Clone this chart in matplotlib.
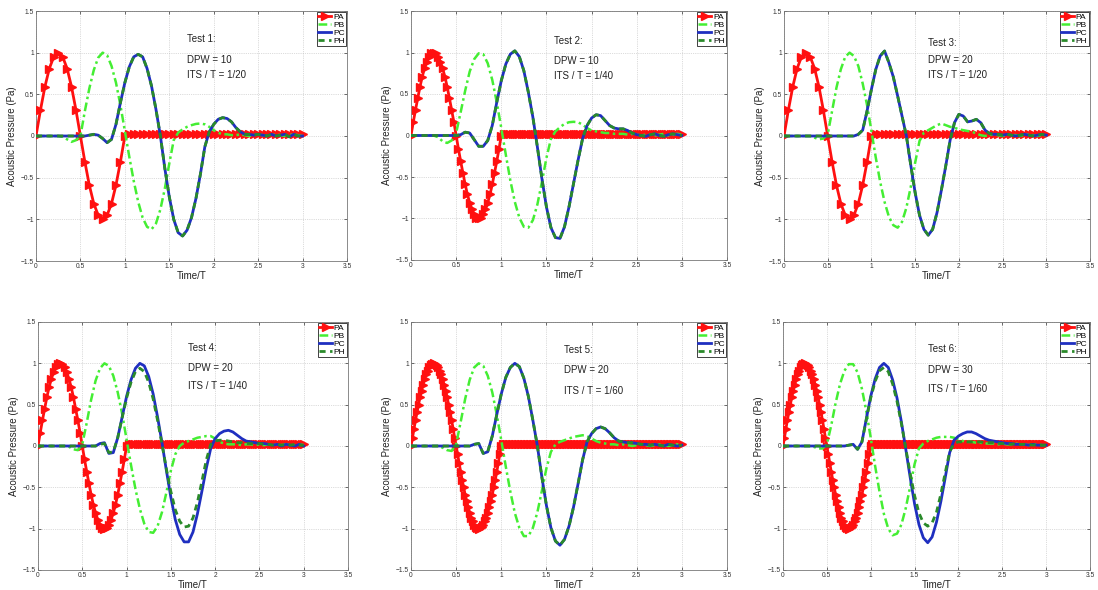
import numpy as np
import matplotlib
matplotlib.use("Agg")
import matplotlib.pyplot as plt
from matplotlib.ticker import FuncFormatter

plt.rcParams['font.family'] = ['Liberation Sans', 'DejaVu Sans']

# ---------------------------------------------------------------------------
# Data
# ---------------------------------------------------------------------------
# Common time grid (Time/T) for the smooth responses PB, PC, PH
t_grid = np.round(np.arange(61) * 0.05, 2)

test_names = ["Test 1:", "Test 2:", "Test 3:", "Test 4:", "Test 5:", "Test 6:"]
dpw_labels = ["DPW = 10", "DPW = 10", "DPW = 20", "DPW = 20", "DPW = 20", "DPW = 30"]
its_labels = ["ITS / T = 1/20", "ITS / T = 1/40", "ITS / T = 1/20",
              "ITS / T = 1/40", "ITS / T = 1/60", "ITS / T = 1/60"]
its_steps = [1 / 20, 1 / 40, 1 / 20, 1 / 40, 1 / 60, 1 / 60]

# Source pulse PA over one period, sampled at the ITS step
pa_20 = [0.0, 0.31, 0.59, 0.81, 0.95, 1.0, 0.95, 0.81, 0.59, 0.31, 0.0,
         -0.31, -0.59, -0.81, -0.95, -1.0, -0.95, -0.81, -0.59, -0.31, 0.0]
pa_40 = [0.0, 0.16, 0.31, 0.45, 0.59, 0.71, 0.81, 0.89, 0.95, 0.99, 1.0,
         0.99, 0.95, 0.89, 0.81, 0.71, 0.59, 0.45, 0.31, 0.16, 0.0,
         -0.16, -0.31, -0.45, -0.59, -0.71, -0.81, -0.89, -0.95, -0.99, -1.0,
         -0.99, -0.95, -0.89, -0.81, -0.71, -0.59, -0.45, -0.31, -0.16, 0.0]
pa_60 = [0.0, 0.10, 0.21, 0.31, 0.41, 0.5, 0.59, 0.67, 0.74, 0.81, 0.87,
         0.91, 0.95, 0.98, 0.99, 1.0, 0.99, 0.98, 0.95, 0.91, 0.87,
         0.81, 0.74, 0.67, 0.59, 0.5, 0.41, 0.31, 0.21, 0.10, 0.0,
         -0.10, -0.21, -0.31, -0.41, -0.5, -0.59, -0.67, -0.74, -0.81, -0.87,
         -0.91, -0.95, -0.98, -0.99, -1.0, -0.99, -0.98, -0.95, -0.91, -0.87,
         -0.81, -0.74, -0.67, -0.59, -0.5, -0.41, -0.31, -0.21, -0.10, 0.0]
pa_pulses = [pa_20, pa_40, pa_20, pa_40, pa_60, pa_60]
pa_tail_level = 0.02   # PA after the pulse (1 < t <= 3)
pa_end = 3.0

pb_1 = [0, 0, 0, 0, 0, 0,
        -0.01, -0.04, -0.07, -0.05, 0.0,
        0.30, 0.57, 0.79, 0.94, 1.00,
        0.97, 0.84, 0.64, 0.37, 0.06,
        -0.25, -0.54, -0.79, -0.98, -1.09,
        -1.12, -1.05, -0.88, -0.63, -0.33,
        -0.05, 0.04, 0.08, 0.11, 0.13,
        0.145, 0.15, 0.14, 0.11, 0.07,
        0.04, 0.02, 0.02, 0.01, 0.01,
        0.02, 0.01, 0.0, 0.01, 0.02,
        0.01, 0.0, 0.01, 0.02, 0.01,
        0.0, 0.01, 0.02, 0.01, 0.0]
pc_1 = [0, 0, 0, 0, 0, 0, 0, 0, 0, 0, 0,
        0.0, 0.01, 0.02, 0.01, -0.03,
        -0.08, -0.04, 0.14, 0.40, 0.64,
        0.83, 0.95, 0.98, 0.95, 0.81,
        0.60, 0.32, 0.0, -0.39, -0.73,
        -1.0, -1.16, -1.2, -1.13, -0.98,
        -0.75, -0.46, -0.13, 0.05, 0.14,
        0.20, 0.22, 0.21, 0.17, 0.10,
        0.05, 0.02, 0.02, 0.01, 0.02,
        0.01, 0.0, 0.02, 0.0, 0.01,
        0.02, -0.01, 0.02, 0.0, 0.0]
ph_1 = pc_1

pb_2 = [0, 0, 0, 0, 0, 0,
        -0.02, -0.07, -0.09, -0.06, 0.03,
        0.28, 0.54, 0.77, 0.92, 0.99,
        0.98, 0.87, 0.67, 0.40, 0.09,
        -0.23, -0.54, -0.80, -0.99, -1.10,
        -1.11, -1.02, -0.83, -0.56, -0.27,
        -0.04, 0.05, 0.10, 0.14, 0.16,
        0.165, 0.16, 0.13, 0.09, 0.06,
        0.05, 0.04, 0.03, 0.03, 0.02,
        0.02, 0.02, 0.01, 0.02, 0.01,
        0.0, 0.01, 0.01, 0.0, 0.01,
        0.02, 0.0, 0.01, 0.02, 0.01]
pc_2 = [0, 0, 0, 0, 0, 0, 0, 0, 0, 0, 0,
        0.01, 0.04, 0.03, -0.05, -0.13,
        -0.13, -0.06, 0.12, 0.40, 0.66,
        0.86, 0.98, 1.02, 0.95, 0.78,
        0.52, 0.22, -0.14, -0.52, -0.86,
        -1.11, -1.23, -1.24, -1.10, -0.86,
        -0.58, -0.30, -0.04, 0.12, 0.21,
        0.25, 0.24, 0.18, 0.12, 0.09,
        0.08, 0.08, 0.06, 0.03, 0.01,
        0.0, -0.01, 0.01, 0.02, 0.0,
        -0.01, 0.01, 0.02, 0.01, 0.0]
ph_2 = pc_2

pb_3 = [0, 0, 0, 0, 0, 0,
        0.0, -0.02, -0.04, -0.03, 0.02,
        0.30, 0.58, 0.80, 0.95, 1.0,
        0.96, 0.84, 0.63, 0.37, 0.06,
        -0.26, -0.55, -0.79, -0.97, -1.07,
        -1.10, -1.03, -0.86, -0.61, -0.32,
        -0.06, 0.04, 0.07, 0.10, 0.13,
        0.15, 0.13, 0.11, 0.10, 0.08,
        0.07, 0.06, 0.05, 0.03, 0.01,
        0.0, 0.01, 0.02, 0.01, 0.0,
        0.01, 0.02, 0.01, 0.0, 0.01,
        0.02, 0.01, 0.0, 0.01, 0.01]
pc_3 = [0, 0, 0, 0, 0, 0, 0, 0, 0, 0, 0, 0, 0, 0, 0, 0,
        0.0, 0.02, 0.07, 0.30, 0.56,
        0.80, 0.96, 1.02, 0.88, 0.71,
        0.48, 0.24, 0.0, -0.35, -0.68,
        -0.95, -1.12, -1.19, -1.12, -0.92,
        -0.65, -0.36, -0.05, 0.16, 0.26,
        0.24, 0.17, 0.18, 0.20, 0.16,
        0.07, 0.03, 0.02, 0.02, 0.01,
        0.02, 0.01, 0.0, 0.01, 0.02,
        0.01, 0.0, 0.01, 0.02, 0.01]
ph_3 = pc_3

pb_4 = [0, 0, 0, 0, 0, 0,
        0.0, -0.01, -0.04, -0.05, 0.02,
        0.28, 0.56, 0.79, 0.94, 1.0,
        0.97, 0.85, 0.65, 0.39, 0.08,
        -0.23, -0.52, -0.76, -0.94, -1.04,
        -1.05, -0.97, -0.80, -0.56, -0.30,
        -0.10, 0.0, 0.04, 0.06, 0.08,
        0.10, 0.11, 0.12, 0.12, 0.09,
        0.05, 0.03, 0.02, 0.02, 0.02,
        0.01, 0.02, 0.02, 0.01, 0.02,
        0.01, 0.02, 0.01, 0.02, 0.01,
        0.02, 0.01, 0.01, 0.02, 0.01]
pc_4 = [0, 0, 0, 0, 0, 0, 0, 0, 0, 0, 0, 0, 0,
        0.0, 0.03, 0.04, -0.09, -0.08,
        0.10, 0.35, 0.60, 0.80, 0.94,
        1.0, 0.97, 0.84, 0.63, 0.35,
        0.04, -0.30, -0.62, -0.89, -1.07,
        -1.16, -1.16, -1.04, -0.82, -0.55,
        -0.27, -0.03, 0.09, 0.15, 0.18,
        0.19, 0.17, 0.13, 0.09, 0.06,
        0.05, 0.04, 0.03, 0.03, 0.02,
        0.01, 0.02, 0.0, 0.02, 0.01,
        0.0, 0.02, 0.0]
ph_4 = [0, 0, 0, 0, 0, 0, 0, 0, 0, 0, 0, 0, 0,
        0.0, 0.02, 0.03, -0.08, -0.07,
        0.10, 0.34, 0.58, 0.77, 0.90,
        0.94, 0.90, 0.77, 0.57, 0.31,
        0.02, -0.28, -0.55, -0.77, -0.91,
        -0.98, -0.97, -0.87, -0.68, -0.43,
        -0.17, 0.02, 0.06, 0.07, 0.07,
        0.06, 0.05, 0.04, 0.04, 0.03,
        0.03, 0.02, 0.03, 0.02, 0.02,
        0.01, 0.02, 0.01, 0.02, 0.01,
        0.02, 0.01, 0.01]

pb_5 = [0, 0, 0, 0, 0, 0,
        0.0, -0.02, -0.05, -0.06, 0.02,
        0.29, 0.57, 0.80, 0.95, 1.0,
        0.97, 0.85, 0.65, 0.38, 0.07,
        -0.25, -0.55, -0.81, -0.99, -1.09,
        -1.09, -0.99, -0.80, -0.54, -0.27,
        -0.07, 0.02, 0.05, 0.07, 0.09,
        0.11, 0.12, 0.13, 0.12, 0.09,
        0.06, 0.04, 0.03, 0.02, 0.02,
        0.01, 0.02, 0.01, 0.0, 0.01,
        0.02, 0.01, 0.0, 0.01, 0.02,
        0.01, 0.0, 0.01, 0.02, 0.01]
pc_5 = [0, 0, 0, 0, 0, 0, 0, 0, 0, 0, 0, 0, 0,
        0.0, 0.02, 0.03, -0.09, -0.07,
        0.12, 0.38, 0.63, 0.83, 0.95,
        1.0, 0.96, 0.82, 0.60, 0.31,
        0.0, -0.38, -0.72, -0.99, -1.15,
        -1.2, -1.13, -0.97, -0.74, -0.46,
        -0.17, 0.05, 0.15, 0.21, 0.23,
        0.21, 0.16, 0.10, 0.06, 0.05,
        0.04, 0.04, 0.03, 0.02, 0.02,
        0.01, 0.02, 0.01, 0.0, 0.02,
        0.01, 0.0, 0.01]
ph_5 = pc_5

pb_6 = [0, 0, 0, 0, 0, 0,
        0.0, -0.01, -0.03, -0.03, 0.02,
        0.25, 0.52, 0.75, 0.91, 0.99,
        0.99, 0.89, 0.69, 0.42, 0.10,
        -0.24, -0.55, -0.82, -1.0, -1.08,
        -1.06, -0.95, -0.75, -0.49, -0.22,
        -0.03, 0.03, 0.06, 0.08, 0.10,
        0.11, 0.11, 0.11, 0.10, 0.08,
        0.06, 0.05, 0.05, 0.04, 0.04,
        0.03, 0.03, 0.03, 0.02, 0.03,
        0.02, 0.02, 0.03, 0.02, 0.02,
        0.01, 0.02, 0.02, 0.01, 0.01]
pc_6 = [0, 0, 0, 0, 0, 0, 0, 0, 0, 0, 0, 0, 0, 0, 0,
        0.01, 0.02, -0.04, 0.05, 0.33,
        0.60, 0.81, 0.95, 1.0, 0.95,
        0.80, 0.58, 0.29, -0.04, -0.38,
        -0.70, -0.95, -1.11, -1.17, -1.10,
        -0.92, -0.67, -0.38, -0.08, 0.07,
        0.12, 0.15, 0.17, 0.17, 0.15,
        0.12, 0.09, 0.07, 0.06, 0.05,
        0.04, 0.03, 0.03, 0.02, 0.02,
        0.02, 0.01, 0.02, 0.01, 0.01, 0.01]
ph_6 = [0, 0, 0, 0, 0, 0, 0, 0, 0, 0, 0, 0, 0, 0, 0,
        0.01, 0.02, -0.04, 0.05, 0.32,
        0.58, 0.78, 0.91, 0.95, 0.90,
        0.75, 0.54, 0.27, -0.03, -0.33,
        -0.60, -0.81, -0.93, -0.97, -0.93,
        -0.80, -0.58, -0.32, -0.07, 0.03,
        0.05, 0.05, 0.05, 0.05, 0.05,
        0.05, 0.04, 0.04, 0.04, 0.03,
        0.03, 0.03, 0.02, 0.03, 0.02,
        0.02, 0.02, 0.01, 0.02, 0.01, 0.01]

pb_all = [pb_1, pb_2, pb_3, pb_4, pb_5, pb_6]
pc_all = [pc_1, pc_2, pc_3, pc_4, pc_5, pc_6]
ph_all = [ph_1, ph_2, ph_3, ph_4, ph_5, ph_6]

# Annotation anchor (x, y of "Test", "DPW", "ITS" lines) per panel
text_x = [1.70, 1.58, 1.65, 1.69, 1.70, 1.65]
text_y = [(1.16, 0.91, 0.73), (1.14, 0.90, 0.72), (1.12, 0.91, 0.73),
          (1.18, 0.94, 0.72), (1.16, 0.92, 0.67), (1.17, 0.92, 0.69)]

# ---------------------------------------------------------------------------
# Figure
# ---------------------------------------------------------------------------
W, H = 1098, 590
fig = plt.figure(figsize=(W / 100, H / 100), dpi=100)

# axes boxes in pixels: (left, top, right, bottom)
boxes = [(36, 11, 347, 261), (411, 11, 727, 260), (784, 11, 1090, 261),
         (38, 322, 348, 570), (411, 322, 727, 570), (783, 322, 1090, 570)]

c_pa = '#ff1010'
c_pb = '#44ee33'
c_pc = '#1f2fc0'
c_ph = '#2a8a2a'

fmt = FuncFormatter(lambda v, p: ('%g' % v).replace('-', '\u2212'))

for k, (l, t, r, b) in enumerate(boxes):
    ax = fig.add_axes([l / W, 1 - b / H, (r - l) / W, (b - t) / H])

    step = its_steps[k]
    pulse = pa_pulses[k]
    n_pulse = len(pulse)
    n_tail = int(round((pa_end - 1.0) / step))
    t_pa = np.arange(n_pulse + n_tail) * step
    y_pa = np.concatenate([np.asarray(pulse, float),
                           np.full(n_tail, pa_tail_level)])

    ax.plot(t_pa, y_pa, color=c_pa, lw=2.0, marker='>', ms=5.2,
            mec=c_pa, mfc=c_pa, label='PA', zorder=3)
    ax.plot(t_grid, pb_all[k], color=c_pb, lw=1.8,
            ls=(0, (3.5, 1.4, 1, 1.4)), label='PB', zorder=4)
    ax.plot(t_grid, pc_all[k], color=c_pc, lw=2.0, ls='-',
            label='PC', zorder=5)
    ax.plot(t_grid, ph_all[k], color=c_ph, lw=2.0, ls=(0, (2.2, 1.6)),
            label='PH', zorder=6)

    ax.set_xlim(0, 3.5)
    ax.set_ylim(-1.5, 1.5)
    ax.set_xticks(np.arange(0, 3.51, 0.5))
    ax.set_yticks(np.arange(-1.5, 1.51, 0.5))
    ax.xaxis.set_major_formatter(fmt)
    ax.yaxis.set_major_formatter(fmt)
    ax.tick_params(direction='in', length=2.5, width=0.5, labelsize=4.8,
                   top=True, right=True, colors='#333333', pad=1.5)
    ax.grid(True, ls=':', lw=0.5, color='#bbbbbb')
    for s in ax.spines.values():
        s.set_color('#777777')
        s.set_linewidth(0.6)

    ax.set_xlabel('Time/T', fontsize=7, labelpad=0.5, color='#222222')
    ax.set_ylabel('Acoustic Pressure (Pa)', fontsize=7, labelpad=3,
                  color='#222222')

    ty = text_y[k]
    ax.text(text_x[k], ty[0], test_names[k], fontsize=7, va='center',
            ha='left', color='#222222')
    ax.text(text_x[k], ty[1], dpw_labels[k], fontsize=7, va='center',
            ha='left', color='#222222')
    ax.text(text_x[k], ty[2], its_labels[k], fontsize=7, va='center',
            ha='left', color='#222222')

    leg = ax.legend(loc='upper right', fontsize=6, frameon=True,
                    fancybox=False, framealpha=1, edgecolor='#222222',
                    borderpad=0.15, labelspacing=0.0, handlelength=1.5,
                    handletextpad=0.25, borderaxespad=0.15, numpoints=1)
    leg.get_frame().set_linewidth(0.6)

fig.savefig('out.png', dpi=100)
